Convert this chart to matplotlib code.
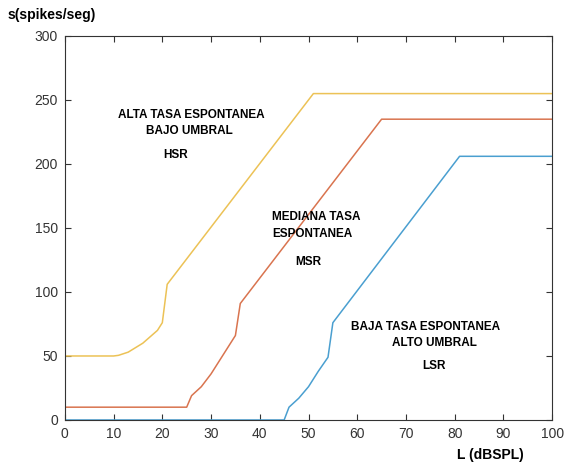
import matplotlib.pyplot as plt

plt.rcParams['font.family'] = ['Liberation Sans', 'DejaVu Sans']

# curvas de tasa de disparo vs nivel (dB SPL)
nivel_hsr = [0, 10, 11, 13, 16, 19, 20, 21, 51, 100]
tasa_hsr = [50, 50, 50.5, 53, 60, 70, 76, 106, 255, 255]

nivel_msr = [0, 25, 26, 28, 30, 33, 35, 36, 65, 100]
tasa_msr = [10, 10, 19, 26, 36, 54, 66, 91, 235, 235]

nivel_lsr = [0, 45, 46, 48, 50, 52, 54, 55, 81, 100]
tasa_lsr = [0, 0, 10, 17, 26, 38, 49, 76, 206, 206]

fig = plt.figure(figsize=(5.64, 4.68), dpi=100)
ax = fig.add_axes([0.115, 0.1026, 0.864, 0.8205])

ax.plot(nivel_lsr, tasa_lsr, color="#4a9fd0", lw=1.1)
ax.plot(nivel_msr, tasa_msr, color="#d9744f", lw=1.1)
ax.plot(nivel_hsr, tasa_hsr, color="#ecc256", lw=1.1)

ax.set_xlim(0, 100)
ax.set_ylim(0, 300)
ax.set_xticks(range(0, 101, 10))
ax.set_yticks(range(0, 301, 50))
ax.tick_params(direction="in", top=True, right=True, length=4, width=0.8,
               labelsize=10, labelcolor="#333333", color="#333333", pad=5)
for s in ax.spines.values():
    s.set_linewidth(0.8)
    s.set_color("#333333")

kw = dict(fontsize=8.5, fontweight="bold", ha="left", va="center")
ax.text(10.9, 238, "ALTA TASA ESPONTANEA", **kw)
ax.text(16.6, 226, "BAJO UMBRAL", **kw)
ax.text(20.1, 207, "HSR", **kw)

ax.text(42.6, 158.6, "MEDIANA TASA", **kw)
ax.text(42.6, 145, "ESPONTANEA", **kw)
ax.text(47.2, 123.7, "MSR", **kw)

ax.text(58.7, 73, "BAJA TASA ESPONTANEA", **kw)
ax.text(67.1, 60, "ALTO UMBRAL", **kw)
ax.text(73.4, 42, "LSR", **kw)

fig.text(8 / 564, 1 - 15 / 468, "s(spikes/seg)", fontsize=10, fontweight="bold",
         ha="left", va="center")
fig.text(490 / 564, 1 - 455 / 468, "L (dBSPL)", fontsize=10, fontweight="bold",
         ha="center", va="center")

fig.savefig("out.png", dpi=100)
